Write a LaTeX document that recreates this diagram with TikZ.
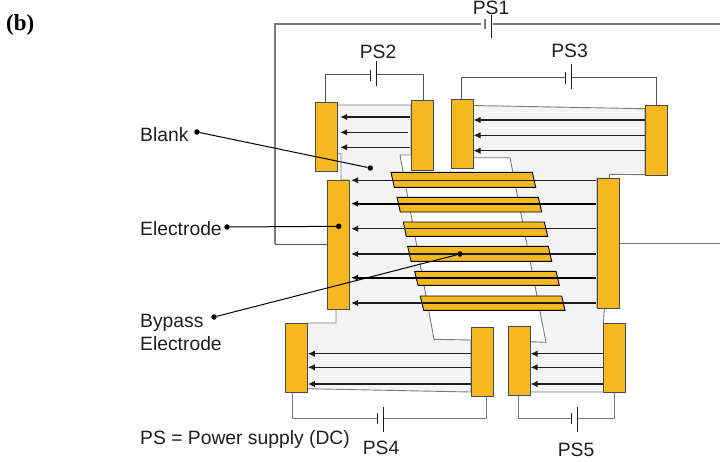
\documentclass[tikz,border=0pt]{standalone}
\usepackage{fontspec}
\setmainfont{Liberation Sans}
\newfontfamily\serifb{Liberation Serif}
\usetikzlibrary{arrows.meta,calc}
\definecolor{elec}{HTML}{F5B820}
\definecolor{wiregray}{HTML}{7A7A7A}
\definecolor{blankfill}{HTML}{F4F4F4}
\definecolor{ink}{HTML}{1E1E1E}
\tikzset{
  electrode/.style={draw=ink!80,fill=elec,line width=0.8pt,inner sep=0pt,minimum width=22pt,anchor=north west},
  bypass/.style={draw=black,fill=elec,line width=0.9pt,line join=miter},
  blankarea/.style={draw=wiregray,fill=blankfill,line width=0.9pt},
  wire/.style={draw=ink!75,line width=0.9pt},
  mainwire/.style={draw=wiregray,line width=1.2pt},
  plate/.style={draw=ink,line width=0.9pt},
  field/.style={draw=ink,line width=1.4pt,-{Latex[length=7pt,width=6.5pt]}},
  fieldb/.style={draw=black,line width=1.9pt,-{Latex[length=7pt,width=6.5pt]}},
  leader/.style={draw=black,line width=1pt},
  dot/.style={circle,fill=black,inner sep=0pt,minimum size=5.5pt},
  lab/.style={font=\fontsize{19.3}{22}\selectfont,text=ink,inner sep=0pt}
}
\begin{document}
\begin{tikzpicture}[x=1pt,y=-1pt]
\useasboundingbox (0,0) rectangle (720,461);
% blank areas
\path[blankarea] (337,105)--(411,105)--(411,155)--(400,155)--(434,339.3)--(471,340)--(471,392)--(307,388.7)--(307,323)--(336,323)--(336,309)--(349,309)--(349,180)--(341,180)--(341,153.7)--(337,153.7)--cycle;
\path[blankarea] (472.7,105.5)--(645,108.7)--(645,174.7)--(609.3,174.3)--(609.3,178.3)--(597,178.3)--(597,308)--(604.3,308)--(603.5,323)--(603.5,392)--(530,392)--(530,341.7)--(546,342.3)--(510,157.7)--(472.7,157.7)--cycle;
% bypass electrodes
\path[bypass] (391,172.3)--(532.3,172.3)--(535.7,187.3)--(394.3,187.3)--cycle;
\path[bypass] (397,197.3)--(538.3,197.3)--(541.7,212)--(400.3,212)--cycle;
\path[bypass] (403.3,222)--(544.3,222)--(547.7,236.3)--(406.3,236.3)--cycle;
\path[bypass] (407.7,246.3)--(548.3,246.3)--(551.7,261.3)--(411,261.3)--cycle;
\path[bypass] (414.7,271.3)--(556,271.3)--(559.3,285.3)--(418,285.3)--cycle;
\path[bypass] (420.3,296)--(561.7,296)--(565,310.3)--(423.7,310.3)--cycle;
% electrodes
\node[electrode,minimum height=69.3pt] (e2l) at (315.3,102) {};
\node[electrode,minimum height=69.5pt] (e2r) at (411.3,100) {};
\node[electrode,minimum height=69pt] (e3l) at (450.7,99) {};
\node[electrode,minimum height=69.7pt] (e3r) at (645.3,105) {};
\node[electrode,minimum height=129pt] (el) at (327.3,180.3) {};
\node[electrode,minimum height=129.7pt] (er) at (597.3,178.3) {};
\node[electrode,minimum height=69.6pt] (e4l) at (285,322.7) {};
\node[electrode,minimum height=68.7pt] (e4r) at (471.3,327) {};
\node[electrode,minimum height=69pt] (e5l) at (507.7,326.3) {};
\node[electrode,minimum height=69pt] (e5r) at (603.3,323.3) {};
% field arrows
\draw[field] (e2r.west |- 0,117) ++(-1.5,0) -- ($(e2l.east |- 0,117)+(2,0)$);
\draw[field] (e2r.west |- 0,132.3) ++(-3.5,0) -- ($(e2l.east |- 0,132.3)+(2,0)$);
\draw[field] (e2r.west |- 0,147.3) ++(-1.5,0) -- ($(e2l.east |- 0,147.3)+(2,0)$);
\draw[field] (e3r.west |- 0,120) -- (e3l.east |- 0,120);
\draw[field] (e3r.west |- 0,135.3) -- (e3l.east |- 0,135.3);
\draw[field] (e3r.west |- 0,150.7) -- (e3l.east |- 0,150.7);
\draw[field] (er.west |- 0,180.3) ++(-1,0) -- ($(el.east |- 0,180.3)+(1,0)$);
\draw[fieldb] (er.west |- 0,203.7) ++(-1,0) -- ($(el.east |- 0,203.7)+(1,0)$);
\draw[field] (er.west |- 0,228.7) ++(-1,0) -- ($(el.east |- 0,228.7)+(1,0)$);
\draw[field] (er.west |- 0,254) ++(-1,0) -- ($(el.east |- 0,254)+(1,0)$);
\draw[fieldb] (er.west |- 0,277.7) ++(-1,0) -- ($(el.east |- 0,277.7)+(1,0)$);
\draw[field] (er.west |- 0,303) ++(-1,0) -- ($(el.east |- 0,303)+(1,0)$);
\draw[field] (e4r.west |- 0,353.7) -- (e4l.east |- 0,353.7);
\draw[field] (e4r.west |- 0,367.3) -- (e4l.east |- 0,367.3);
\draw[field,line width=1.7pt] (e4r.west |- 0,384) -- (e4l.east |- 0,384);
\draw[field] (e5r.west |- 0,353.7) -- (e5l.east |- 0,353.7);
\draw[field] (e5r.west |- 0,367.3) -- (e5l.east |- 0,367.3);
\draw[field,line width=1.7pt] (e5r.west |- 0,384) -- (e5l.east |- 0,384);
% PS1
\coordinate (p1a) at (485,24); \coordinate (p1b) at (491.3,24);
\draw[mainwire] (p1a) ++(-4,0) -- (275,24) -- (275,244);
\draw[wire] (275,244) -- (el.west |- 0,244);
\draw[mainwire] ($(p1b)+(2,0)$) -- (720,24);
\draw[mainwire] (485,19) -- (485,29);
\draw[plate] (491.3,15) -- (491.3,38);
\draw[mainwire,line width=0.9pt] (er.east |- 0,243) -- (720,243);
% PS2
\coordinate (p2a) at (370,74); \coordinate (p2b) at (376.3,74);
\draw[wire] (e2l.north -| 325.7,0) -- (325.7,74) -- (p2a);
\draw[wire] (p2b) -- (423.7,74) -- (e2r.north -| 423.7,0);
\draw[plate] (370,69.5) -- (370,80.5);
\draw[plate] (376.3,61) -- (376.3,86);
% PS3
\coordinate (p3a) at (565.3,77.3); \coordinate (p3b) at (571,77.3);
\draw[wire] (e3l.north -| 461.7,0) -- (461.7,77.3) -- (p3a);
\draw[wire] (p3b) -- (656,77.3) -- (e3r.north -| 656,0);
\draw[plate] (565.3,72) -- (565.3,84);
\draw[plate] (571,64) -- (571,89);
% PS4
\coordinate (p4a) at (377.3,418.7); \coordinate (p4b) at (383.3,418.7);
\draw[mainwire,line width=1pt] (e4l.south -| 292.3,0) -- (292.3,418.7) -- (p4a);
\draw[mainwire,line width=1pt] (p4b) -- (486.7,418.7) -- (e4r.south -| 486.7,0);
\draw[plate] (377.3,413) -- (377.3,424);
\draw[plate] (383.3,407) -- (383.3,432);
% PS5
\coordinate (p5a) at (571.3,418.7); \coordinate (p5b) at (577.3,418.7);
\draw[mainwire,line width=1pt] (e5l.south -| 518.7,0) -- (518.7,418.7) -- (p5a);
\draw[mainwire,line width=1pt] (p5b) -- (614.3,418.7) -- (e5r.south -| 614.3,0);
\draw[plate] (571.3,413) -- (571.3,424);
\draw[plate] (577.3,407) -- (577.3,432);
% leaders
\node[dot] (dblankL) at (197,132) {};
\node[dot] (dblankR) at (370.3,168) {};
\node[dot] (delecL) at (227,227) {};
\node[dot] (delecR) at (338.7,226.3) {};
\node[dot] (dbypL) at (214,317) {};
\node[dot] (dbypR) at (460,254) {};
\draw[leader] (dblankL) -- (dblankR);
\draw[leader] (delecL) -- (delecR);
\draw[leader] (dbypL) -- (dbypR);
% labels
\node[lab,anchor=base west] (lblank) at (140,141) {Blank};
\node[lab,anchor=base west] (lelec) at (140,235) {Electrode};
\node[lab,anchor=base west] (lbyp) at (140,327.5) {Bypass};
\node[lab,anchor=base west] (lbyp2) at (140,350.5) {Electrode};
\node[lab,anchor=base west] (lps) at (140,444) {PS = Power supply (DC)};
\node[lab,anchor=base] (ps1) at (491,14) {PS1};
\node[lab,anchor=base] (ps2) at (378,58) {PS2};
\node[lab,anchor=base] (ps3) at (569.5,57) {PS3};
\node[lab,anchor=base] (ps4) at (381,454) {PS4};
\node[lab,anchor=base] (ps5) at (576,456) {PS5};
\node[anchor=base west,inner sep=0pt,font=\serifb\bfseries\fontsize{23}{26}\selectfont] (bl) at (6,30) {(b)};
\end{tikzpicture}
\end{document}
